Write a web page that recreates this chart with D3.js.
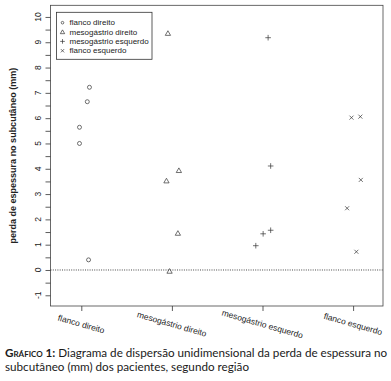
<!DOCTYPE html>
<html><head><meta charset="utf-8">
<script src="https://cdn.jsdelivr.net/npm/d3@7"></script>
<style>body{margin:0;background:#fff;} svg{display:block;}</style>
</head><body>
<script>
const categories = ["flanco direito","mesogástrio direito","mesogástrio esquerdo","flanco esquerdo"];
const symbols = ["circle","triangle","plus","cross"];
const flancoDireito = [5.0, 5.64, 6.65, 7.22, 0.4];
const flancoDireitoJitter = [-0.02, -0.02, 0.066, 0.09, 0.08];
const mesoDireito = [9.35, 3.52, 3.93, 1.45, -0.05];
const mesoDireitoJitter = [-0.044, -0.06, 0.077, 0.066, -0.026];
const mesoEsquerdo = [9.18, 4.11, 0.96, 1.43, 1.57];
const mesoEsquerdoJitter = [0.062, 0.09, -0.074, 0.007, 0.09];
const flancoEsquerdo = [6.02, 6.06, 3.56, 2.44, 0.72];
const flancoEsquerdoJitter = [-0.018, 0.08, 0.085, -0.066, 0.036];
const yTicks = [-1,0,1,2,3,4,5,6,7,8,9,10];
const yMinorTicks = d3.range(-1, 10.01, 0.5);
const yTitle = "perda de espessura no subcutâneo (mm)";
const captionBold = "Gráfico 1:";
const captionLine1 = " Diagrama de dispersão unidimensional da perda de espessura no";
const captionLine2 = "subcutâneo (mm) dos pacientes, segundo região";

const seriesVals = [flancoDireito, mesoDireito, mesoEsquerdo, flancoEsquerdo];
const seriesJit = [flancoDireitoJitter, mesoDireitoJitter, mesoEsquerdoJitter, flancoEsquerdoJitter];

const W = 391, H = 381;
const L = 50.5, R = 383, T = 5.3, B = 306;
const ink = "#222";
const svg = d3.select("body").append("svg").attr("width", W).attr("height", H);

const x = d3.scaleLinear().domain([0.66, 4.33]).range([L, R]);
const y = d3.scaleLinear().domain([-1.423, 10.46]).range([B, T]);

// box
svg.append("rect").attr("x", L).attr("y", T).attr("width", R - L).attr("height", B - T)
  .attr("fill", "none").attr("stroke", "#444").attr("stroke-width", 0.8);

// y axis
const yAxis = svg.append("g").attr("transform", `translate(${L},0)`)
  .call(d3.axisLeft(y).tickValues(yMinorTicks).tickSize(5).tickFormat(""));
yAxis.select(".domain").remove();
yAxis.selectAll("line").attr("stroke", "#333").attr("stroke-width", 0.8);
svg.append("g").selectAll("text").data(yTicks).join("text")
  .attr("transform", d => `translate(${L - 13},${y(d)}) rotate(-90)`)
  .attr("text-anchor", "middle").attr("dominant-baseline", "central")
  .attr("font-family", "Liberation Sans, Arial, sans-serif").attr("font-size", 8.5)
  .attr("fill", ink).text(d => d);

// x axis
const xAxis = svg.append("g").attr("transform", `translate(0,${B})`)
  .call(d3.axisBottom(x).tickValues([1,2,3,4]).tickSize(5).tickFormat(""));
xAxis.select(".domain").remove();
xAxis.selectAll("line").attr("stroke", "#333").attr("stroke-width", 0.8);
svg.append("g").selectAll("text").data(categories).join("text")
  .attr("transform", (d, i) => `translate(${x(i + 1)},${B + 18}) rotate(16)`)
  .attr("text-anchor", "middle").attr("dominant-baseline", "central")
  .attr("font-family", "Liberation Sans, Arial, sans-serif").attr("font-size", 8.5)
  .attr("fill", ink).text(d => d);

// y title
svg.append("text")
  .attr("transform", `translate(13,${(T + B) / 2}) rotate(-90)`)
  .attr("text-anchor", "middle").attr("dominant-baseline", "central")
  .attr("font-family", "Liberation Sans, Arial, sans-serif").attr("font-size", 9)
  .attr("font-weight", "bold").attr("fill", ink).text(yTitle);

// zero line
svg.append("line").attr("x1", L).attr("x2", R).attr("y1", y(0)).attr("y2", y(0))
  .attr("stroke", "#333").attr("stroke-width", 0.9).attr("stroke-dasharray", "1,1.3");

function drawSymbol(g, type, cx, cy, s) {
  let el;
  if (type === "circle") {
    el = g.append("circle").attr("cx", cx).attr("cy", cy).attr("r", s * 0.5);
  } else if (type === "triangle") {
    const h = s * 1.1;
    el = g.append("path").attr("d", `M${cx},${cy - h * 0.6}L${cx + h * 0.6},${cy + h * 0.45}L${cx - h * 0.6},${cy + h * 0.45}Z`);
  } else if (type === "plus") {
    const a = s * 0.7;
    el = g.append("path").attr("d", `M${cx - a},${cy}H${cx + a}M${cx},${cy - a}V${cy + a}`);
  } else {
    const a = s * 0.5;
    el = g.append("path").attr("d", `M${cx - a},${cy - a}L${cx + a},${cy + a}M${cx - a},${cy + a}L${cx + a},${cy - a}`);
  }
  el.attr("stroke", "#333").attr("stroke-width", 0.7).attr("fill", "none");
}

const pts = svg.append("g");
seriesVals.forEach((vals, si) => {
  vals.forEach((v, i) => drawSymbol(pts, symbols[si], x(si + 1 + seriesJit[si][i]), y(v), 4));
});

// legend
const lg = svg.append("g");
lg.append("rect").attr("x", 56.5).attr("y", 12.3).attr("width", 95.5).attr("height", 47)
  .attr("fill", "#fff").attr("stroke", "#333").attr("stroke-width", 0.8);
categories.forEach((c, i) => {
  const yy = 22.7 + i * 9.35;
  drawSymbol(lg, symbols[i], 62.5, yy, i === 0 ? 2.6 : 3.3);
  lg.append("text").attr("x", 69.5).attr("y", yy).attr("dominant-baseline", "central")
    .attr("font-family", "Liberation Sans, Arial, sans-serif").attr("font-size", 8)
    .attr("fill", ink).text(c);
});

// caption
const cap = svg.append("text").attr("font-family", "Lato, sans-serif").attr("font-size", 12).attr("fill", "#1a1a1a");
const l1 = cap.append("tspan").attr("x", 5).attr("y", 357);
l1.append("tspan").attr("font-weight", "bold").style("font-variant", "small-caps").text(captionBold);
l1.append("tspan").text(captionLine1);
cap.append("tspan").attr("x", 5).attr("y", 371).text(captionLine2);
// fit first line to the reference width (~383px)
const bb = cap.node().getBBox();
const fs = 12 * 382 / bb.width;
cap.attr("font-size", fs);
</script>
</body></html>
